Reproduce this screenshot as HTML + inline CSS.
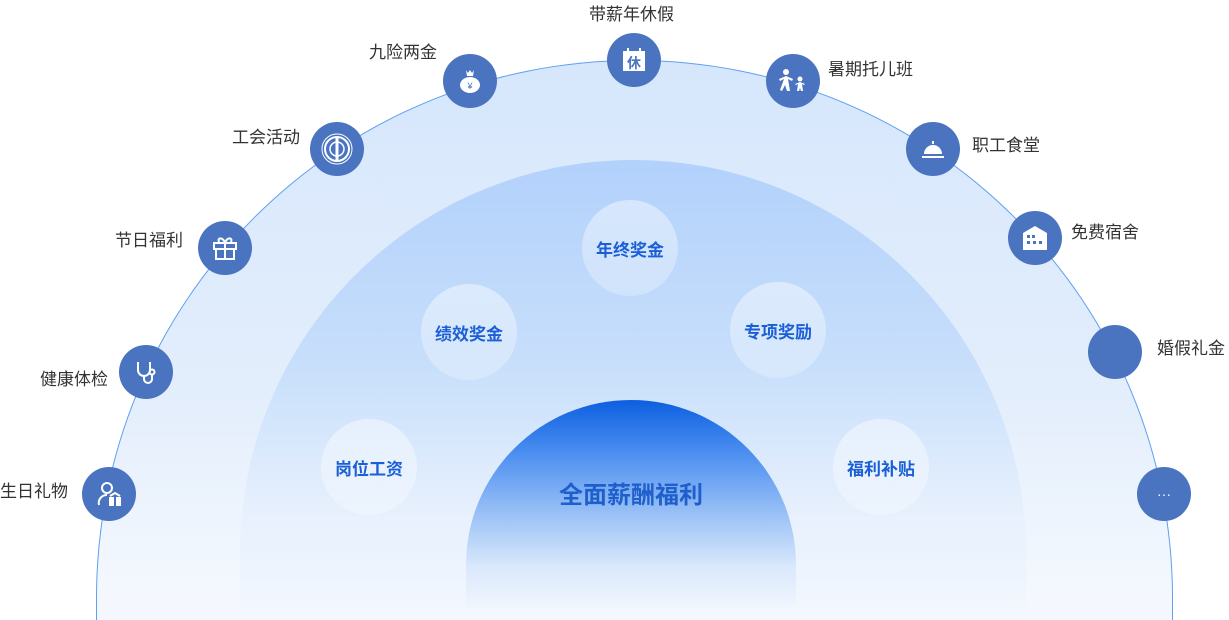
<!DOCTYPE html>
<html><head><meta charset="utf-8"><style>
*{margin:0;padding:0;box-sizing:border-box}
body{width:1229px;height:602px;overflow:hidden;background:#fff;position:relative;font-family:"Liberation Sans","Noto Sans CJK SC",sans-serif}
.dome{position:absolute}
.outer{left:96px;top:60px;width:1077px;height:560px;border-radius:538px 538px 0 0/538px 538px 0 0;border:1px solid #5f9ff0;border-bottom:none;background:linear-gradient(#d6e7fc 0%,#e3eefc 60%,#f4f8fe 95%)}
.mid{left:240px;top:160px;width:786px;height:460px;border-radius:393px 393px 0 0/393px 393px 0 0;background:linear-gradient(#b2d1fb 0%,#c8dffb 45%,#e8f1fd 78%,rgba(245,249,254,0) 100%)}
.inner{left:466px;top:400px;width:330px;height:210px;border-radius:165px 165px 0 0/165px 165px 0 0;background:linear-gradient(#0d5fe0 0%,#4b8ef0 25%,#9cc2f6 55%,#dbe9fc 80%,rgba(246,250,254,0) 100%)}
.bub{position:absolute;width:96px;height:96px;border-radius:50%;background:linear-gradient(rgba(255,255,255,.45),rgba(255,255,255,.25));color:#1a5fd6;font-weight:bold;font-size:17px;display:flex;align-items:center;justify-content:center}
.c{position:absolute;width:54px;height:54px;border-radius:50%;background:#4a74c0;display:flex;align-items:center;justify-content:center;color:#fff}
.l{position:absolute;font-size:17px;color:#333;white-space:nowrap;line-height:20px}
.r{text-align:right}
</style></head><body>
<div class="dome outer"></div>
<div class="dome mid"></div>
<div class="dome inner"></div>
<div style="position:absolute;left:466px;top:475px;width:330px;text-align:center;font-size:24px;font-weight:bold;color:#1f5fcc">全面薪酬福利</div>
<div class="bub" style="left:582px;top:200px">年终奖金</div>
<div class="bub" style="left:421px;top:284px">绩效奖金</div>
<div class="bub" style="left:730px;top:282px">专项奖励</div>
<div class="bub" style="left:321px;top:419px">岗位工资</div>
<div class="bub" style="left:833px;top:419px">福利补贴</div>

<div class="c" style="left:607px;top:33px"><svg width="26" height="26" viewBox="0 0 26 26"><rect x="2" y="4" width="22" height="20" fill="#fff"/><rect x="6" y="1" width="2" height="6" fill="#fff"/><rect x="18" y="1" width="2" height="6" fill="#fff"/><text x="13" y="21" font-size="14" font-weight="bold" fill="#4a74c0" text-anchor="middle" font-family="Noto Sans CJK SC">休</text></svg></div>
<div class="l" style="left:589px;top:5px">带薪年休假</div>

<div class="c" style="left:443px;top:54px"><svg width="24" height="26" viewBox="0 0 24 26"><path d="M8 2l2 3 2-3 2 3 2-3-1 6H9z" fill="#fff"/><ellipse cx="12" cy="17" rx="10" ry="8" fill="#fff"/><text x="12" y="21" font-size="9" fill="#4a74c0" text-anchor="middle">¥</text></svg></div>
<div class="l r" style="left:337px;top:43px;width:100px">九险两金</div>

<div class="c" style="left:766px;top:54px"><svg width="34" height="26" viewBox="0 0 34 26"><circle cx="10" cy="4" r="3" fill="#fff"/><path d="M3 11l7-3 7 3-1 2-4-2 2 12-3 0-2-6-3 6-2-1 4-11-4 2z" fill="#fff"/><circle cx="24" cy="11" r="2.5" fill="#fff"/><path d="M19 16l5-2 5 2-1 1-2-1 1 7h-2l-1-3-1 3h-2l1-7-2 1z" fill="#fff"/></svg></div>
<div class="l" style="left:828px;top:60px">暑期托儿班</div>

<div class="c" style="left:310px;top:122px"><svg width="34" height="34" viewBox="0 0 34 34"><circle cx="17" cy="17" r="15" fill="none" stroke="#fff" stroke-width="1"/><circle cx="17" cy="17" r="12" fill="none" stroke="#fff" stroke-width="2"/><circle cx="17" cy="17" r="7" fill="none" stroke="#fff" stroke-width="1.5"/><rect x="15.5" y="5" width="3" height="24" fill="#fff"/></svg></div>
<div class="l r" style="left:200px;top:128px;width:100px">工会活动</div>

<div class="c" style="left:906px;top:122px"><svg width="26" height="22" viewBox="0 0 26 22"><rect x="12" y="3" width="2" height="3" fill="#fff"/><path d="M4 16a9 9 0 0 1 18 0z" fill="#fff"/><rect x="2" y="18" width="22" height="2" fill="#fff"/></svg></div>
<div class="l" style="left:972px;top:136px">职工食堂</div>

<div class="c" style="left:198px;top:221px"><svg width="26" height="26" viewBox="0 0 26 26"><rect x="2" y="8" width="22" height="6" fill="none" stroke="#fff" stroke-width="2"/><rect x="4" y="14" width="18" height="10" fill="none" stroke="#fff" stroke-width="2"/><line x1="13" y1="8" x2="13" y2="24" stroke="#fff" stroke-width="2"/><path d="M13 8c-2-6-8-6-6-1M13 8c2-6 8-6 6-1" fill="none" stroke="#fff" stroke-width="2"/></svg></div>
<div class="l r" style="left:83px;top:231px;width:100px">节日福利</div>

<div class="c" style="left:1008px;top:211px"><svg width="26" height="26" viewBox="0 0 26 26"><path d="M1 8L13 1l12 7v17H1z" fill="#fff"/><g fill="#4a74c0"><rect x="5" y="10" width="3" height="3"/><rect x="10" y="10" width="3" height="3"/><rect x="5" y="16" width="3" height="3"/><rect x="11" y="16" width="3" height="3"/><rect x="17" y="16" width="3" height="3"/></g></svg></div>
<div class="l" style="left:1071px;top:223px">免费宿舍</div>

<div class="c" style="left:119px;top:345px"><svg width="26" height="26" viewBox="0 0 26 26"><path d="M5 3v8a6 6 0 0 0 12 0V3M11 17v3a4 4 0 0 0 8 0v-4" fill="none" stroke="#fff" stroke-width="2"/><circle cx="19" cy="13" r="2.5" fill="none" stroke="#fff" stroke-width="2"/></svg></div>
<div class="l r" style="left:8px;top:370px;width:100px">健康体检</div>

<div class="c" style="left:1088px;top:325px"></div>
<div class="l" style="left:1157px;top:339px">婚假礼金</div>

<div class="c" style="left:82px;top:467px"><svg width="28" height="28" viewBox="0 0 28 28"><circle cx="12" cy="8" r="5" fill="none" stroke="#fff" stroke-width="2"/><path d="M4 25a8 8 0 0 1 8-10" fill="none" stroke="#fff" stroke-width="2"/><rect x="14" y="17" width="12" height="9" fill="#fff"/><rect x="19" y="17" width="2" height="9" fill="#4a74c0"/><path d="M15 16l5-3 5 3" fill="none" stroke="#fff" stroke-width="2"/></svg></div>
<div class="l" style="left:0px;top:482px">生日礼物</div>

<div class="c" style="left:1137px;top:467px;font-size:14px">···</div>
</body></html>
